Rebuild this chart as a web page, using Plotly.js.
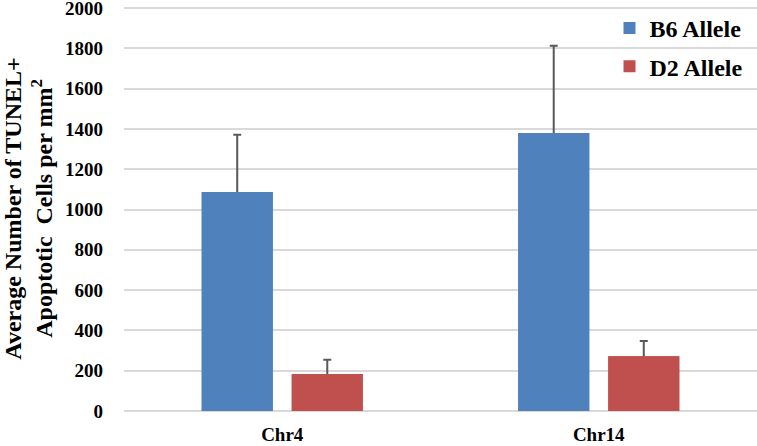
<!DOCTYPE html>
<html>
<head>
<meta charset="utf-8">
<script src="https://cdn.plot.ly/plotly-3.0.1.min.js"></script>
<style>body{margin:0;background:#fff}</style>
</head>
<body>
<div id="chart" style="width:757px;height:446px"></div>
<script>
const categories = ["Chr4", "Chr14"];
const b6Values = [1087, 1380];
const b6Errors = [284, 433];
const d2Values = [184, 272];
const d2Errors = [70, 75];
const yTicks = [0, 200, 400, 600, 800, 1000, 1200, 1400, 1600, 1800, 2000];

const font = "Liberation Serif, Times New Roman, serif";
const errStyle = {color: "#595959", thickness: 2, width: 4};

// bars with error bars, then plain copies on top to hide the lower caps
const traces = [
  {
    type: "bar", name: "<b>B6 Allele</b>", x: categories, y: b6Values, offsetgroup: "b6",
    marker: {color: "#4F81BD"}, legendgroup: "b6",
    error_y: Object.assign({type: "data", array: b6Errors, symmetric: false, arrayminus: [12, 12]}, errStyle),
  },
  {
    type: "bar", name: "<b>D2 Allele</b>", x: categories, y: d2Values, offsetgroup: "d2",
    marker: {color: "#C0504D"}, legendgroup: "d2",
    error_y: Object.assign({type: "data", array: d2Errors, symmetric: false, arrayminus: [12, 12]}, errStyle),
  },
  {
    type: "bar", x: categories, y: b6Values, offsetgroup: "b6", showlegend: false,
    marker: {color: "#4F81BD"}, hoverinfo: "skip",
  },
  {
    type: "bar", x: categories, y: d2Values, offsetgroup: "d2", showlegend: false,
    marker: {color: "#C0504D"}, hoverinfo: "skip",
  },
];

Plotly.newPlot("chart", traces, {
  width: 757, height: 446,
  margin: {l: 124, r: 0, t: 6, b: 35},
  paper_bgcolor: "#fff", plot_bgcolor: "#fff",
  font: {family: font, color: "#000"},
  barmode: "group",
  bargap: 0.431,
  bargroupgap: 0.211,
  showlegend: true,
  legend: {
    x: 0.767, y: 1.0, xanchor: "left", yanchor: "top",
    bgcolor: "rgba(255,255,255,0)",
    font: {size: 24, family: font, weight: "bold"},
    tracegroupgap: 4, itemwidth: 30,
  },
  xaxis: {
    showgrid: false, zeroline: false, showline: false,
    ticks: "outside", ticklen: 6, tickcolor: "rgba(0,0,0,0)",
    tickfont: {size: 19, family: font, weight: "bold"},
  },
  yaxis: {
    range: [0, 2010], tickvals: yTicks,
    showgrid: true, gridcolor: "#d9d9d9", gridwidth: 1.5,
    zeroline: true, zerolinecolor: "#d9d9d9", zerolinewidth: 1.5,
    ticks: "", ticklabelstandoff: 20, ticklabeloverflow: "allow",
    tickfont: {size: 19, family: font, weight: "bold"},
    title: {
      text: "Average Number of TUNEL+<br>Apoptotic  Cells per mm<sup>2</sup>",
      font: {size: 24, family: font, weight: "bold"},
      standoff: 13,
    },
  },
}, {displayModeBar: false});
</script>
</body>
</html>
